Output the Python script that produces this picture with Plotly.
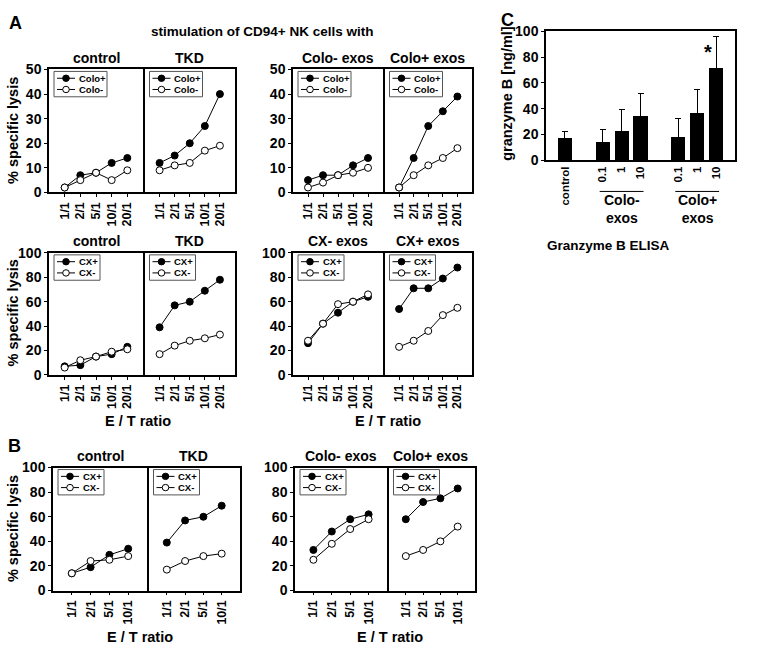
import plotly.graph_objects as go

W, H = 762, 660

# ---------------- data ----------------
ratios_A = ["1/1", "2/1", "5/1", "10/1", "20/1"]
ratios_B = ["1/1", "2/1", "5/1", "10/1"]

titles_A_top = ["control", "TKD", "Colo- exos", "Colo+ exos"]
A_top_pos = [[2, 7, 8, 12, 14], [12, 15, 20, 27, 40], [5, 7, 7, 11, 14], [2, 14, 27, 33, 39]]
A_top_neg = [[2, 5, 8, 5, 9], [9, 11, 12, 17, 19], [2, 4, 7, 8, 10], [2, 7, 11, 14, 18]]
names_A_top = ["Colo+", "Colo-"]

titles_A_bot = ["control", "TKD", "CX- exos", "CX+ exos"]
A_bot_pos = [[7, 8, 15, 17, 23], [39, 57, 60, 69, 78], [26, 42, 51, 60, 64], [54, 71, 71, 79, 88]]
A_bot_neg = [[6, 12, 15, 19, 21], [17, 24, 28, 30, 33], [28, 42, 58, 60, 66], [23, 28, 36, 49, 55]]
names_A_bot = ["CX+", "CX-"]

titles_B = ["control", "TKD", "Colo- exos", "Colo+ exos"]
B_pos = [[14, 19, 29, 34], [39, 57, 60, 69], [33, 48, 58, 62], [58, 72, 75, 83]]
B_neg = [[14, 24, 25, 28], [17, 24, 28, 30], [25, 38, 50, 58], [28, 33, 40, 52]]
names_B = ["CX+", "CX-"]

C_groups = [["control"], ["0.1", "1", "10"], ["0.1", "1", "10"]]
C_group_names = [None, "Colo-<br>exos", "Colo+<br>exos"]
C_mean = [17, 14, 22, 34, 18, 36, 71]
C_sd = [5, 10, 17, 18, 14, 19, 25]

# ---------------- helpers ----------------
def fx(px):
    return px / W

def fy(py):
    return 1 - py / H

FONT = "Liberation Sans"
LW = 1.5
fig = go.Figure()
layout = {}
shapes = []
annotations = []

def ann(x, y, text, size=13.5, angle=0, xanchor="center", yanchor="middle", xref="paper", yref="paper"):
    annotations.append(dict(x=x, y=y, xref=xref, yref=yref, text=text, showarrow=False,
                            textangle=angle, xanchor=xanchor, yanchor=yanchor,
                            font=dict(family=FONT, size=size, color="black", weight="bold")))

def legend_box(x0, y0, names, boxw):
    shapes.append(dict(type="rect", xref="paper", yref="paper",
                       x0=fx(x0 + 5), x1=fx(x0 + 5 + boxw), y0=fy(y0 + 2), y1=fy(y0 + 28),
                       line=dict(color="#555", width=1), fillcolor="white", layer="above"))
    for k, nm in enumerate(names):
        ry = y0 + 9 + 11.5 * k
        shapes.append(dict(type="line", xref="paper", yref="paper",
                           x0=fx(x0 + 8), x1=fx(x0 + 26), y0=fy(ry), y1=fy(ry),
                           line=dict(color="black", width=1), layer="above"))
        r = 3.3
        shapes.append(dict(type="circle", xref="paper", yref="paper",
                           x0=fx(x0 + 17 - r), x1=fx(x0 + 17 + r), y0=fy(ry - r), y1=fy(ry + r),
                           line=dict(color="black", width=1),
                           fillcolor="black" if k == 0 else "white", layer="above"))
        ann(fx(x0 + 27.5), fy(ry), nm, size=9.5, xanchor="left")

idx = [0]

def add_panel(px0, px1, py0, py1, cats, ymax, dtick, pos, neg, names, title, showy, boxw):
    idx[0] += 1
    i = idx[0]
    xa = "x" if i == 1 else f"x{i}"
    ya = "y" if i == 1 else f"y{i}"
    dx0 = px0 if showy else px0 + LW
    layout[f"xaxis{i}"] = dict(domain=[fx(dx0), fx(px1)], anchor=ya, type="category",
                               categoryorder="array", categoryarray=cats,
                               tickmode="array", tickvals=cats, ticktext=cats,
                               range=[-1, len(cats)], showline=True, mirror=True,
                               linecolor="black", linewidth=LW, ticks="outside", ticklen=3,
                               tickcolor="black", tickangle=-90, showgrid=False, zeroline=False,
                               tickfont=dict(family=FONT, size=12.5, color="black", weight="bold"))
    layout[f"yaxis{i}"] = dict(domain=[fy(py1), fy(py0)], anchor=xa, range=[0, ymax],
                               dtick=dtick, showline=True, mirror=True, linecolor="black",
                               linewidth=LW, ticks="outside" if showy else "", ticklen=3,
                               tickcolor="black", showticklabels=showy, showgrid=False,
                               zeroline=False,
                               tickfont=dict(family=FONT, size=14, color="black", weight="bold"))
    fig.add_trace(go.Scatter(x=cats, y=pos, xaxis=xa, yaxis=ya, mode="lines+markers",
                             line=dict(color="black", width=1),
                             marker=dict(size=7, color="black", line=dict(color="black", width=1)),
                             showlegend=False, cliponaxis=False))
    fig.add_trace(go.Scatter(x=cats, y=neg, xaxis=xa, yaxis=ya, mode="lines+markers",
                             line=dict(color="black", width=1),
                             marker=dict(size=7, color="white", line=dict(color="black", width=1)),
                             showlegend=False, cliponaxis=False))
    legend_box(dx0, py0, names, boxw)
    ann(fx((px0 + px1) / 2), fy(py0 - 12), title, size=14)

# Panel A top
xA = [(49, 143), (143, 235), (293, 383), (383, 472)]
for j in range(4):
    add_panel(xA[j][0], xA[j][1], 63, 189, ratios_A, 50, 10, A_top_pos[j], A_top_neg[j],
              names_A_top, titles_A_top[j], j in (0, 2), 53)
# Panel A bottom
for j in range(4):
    add_panel(xA[j][0], xA[j][1], 251, 376, ratios_A, 100, 20, A_bot_pos[j], A_bot_neg[j],
              names_A_bot, titles_A_bot[j], j in (0, 2), 46)
# Panel B
xB = [(53, 147), (147, 240), (295, 387), (387, 475)]
for j in range(4):
    add_panel(xB[j][0], xB[j][1], 471, 597, ratios_B, 100, 20, B_pos[j], B_neg[j],
              names_B, titles_B[j], j in (0, 2), 46)

# y titles & x titles
for cy in (126, 313, 534):
    ann(fx(13), fy(cy), "% specific lysis", size=14.5, angle=-90)
ann(fx(138), fy(423), "E / T ratio", size=14.5)
ann(fx(388), fy(423), "E / T ratio", size=14.5)
ann(fx(140), fy(645), "E / T ratio", size=14.5)
ann(fx(390), fy(645), "E / T ratio", size=14.5)
ann(fx(262), fy(24), "stimulation of CD94+ NK cells with", size=13.5)
ann(fx(15), fy(15), "A", size=18)
ann(fx(14), fy(449), "B", size=18)
ann(fx(507), fy(12), "C", size=18)

# ---------------- Panel C ----------------
i = idx[0] + 1
cx_pos, cx_lbl, grp_span = [], [], []
p = 0
for g, items in enumerate(C_groups):
    start = p
    for it in items:
        cx_pos.append(p)
        cx_lbl.append(it)
        p += 1
    grp_span.append((start, p - 1))
    p += 1

layout[f"xaxis{i}"] = dict(domain=[fx(546), fx(735)], anchor=f"y{i}", range=[-1, cx_pos[-1] + 1],
                           tickmode="array", tickvals=cx_pos, ticktext=cx_lbl, tickangle=-90,
                           ticks="", showline=True, mirror=True, linecolor="black", linewidth=LW,
                           showgrid=False, zeroline=False,
                           tickfont=dict(family=FONT, size=11.5, color="black", weight="bold"))
layout[f"yaxis{i}"] = dict(domain=[fy(156), fy(24)], anchor=f"x{i}", range=[0, 100], dtick=20,
                           showline=True, mirror=True, linecolor="black", linewidth=LW,
                           ticks="outside", ticklen=3, tickcolor="black", showgrid=False,
                           zeroline=False,
                           tickfont=dict(family=FONT, size=14, color="black", weight="bold"))
fig.add_trace(go.Bar(x=cx_pos, y=C_mean, width=0.75, marker=dict(color="black", line=dict(width=0)),
                     error_y=dict(type="data", array=C_sd, arrayminus=[0] * len(C_sd),
                                  symmetric=False, color="black", thickness=1, width=3),
                     xaxis=f"x{i}", yaxis=f"y{i}", showlegend=False))

def cpx(v):
    return 546 + (v + 1) * (735 - 546) / (cx_pos[-1] + 2)

for g, nm in enumerate(C_group_names):
    if nm is None:
        continue
    a, b = grp_span[g]
    shapes.append(dict(type="line", xref="paper", yref="paper",
                       x0=fx(cpx(a) - 3), x1=fx(cpx(b) + 3), y0=fy(188), y1=fy(188),
                       line=dict(color="black", width=1)))
    ann(fx((cpx(a) + cpx(b)) / 2), fy(206), nm, size=14)

annotations.append(dict(x=cx_pos[-1] - 0.45, y=84, xref=f"x{i}", yref=f"y{i}", text="*",
                        showarrow=False, font=dict(family=FONT, size=20, color="black", weight="bold")))
ann(fx(608), fy(243), "Granzyme B ELISA", size=13.5)
ann(fx(507), fy(88), "granzyme B [ng/ml]", size=14.5, angle=-90)

fig.update_layout(width=W, height=H, margin=dict(l=0, r=0, t=0, b=0),
                  paper_bgcolor="white", plot_bgcolor="white",
                  font=dict(family=FONT, color="black", weight="bold"),
                  shapes=shapes, annotations=annotations, showlegend=False, bargap=0, **layout)

fig.write_html("out.html", config={"displayModeBar": False},
               post_script="document.body.style.margin='0px';")
